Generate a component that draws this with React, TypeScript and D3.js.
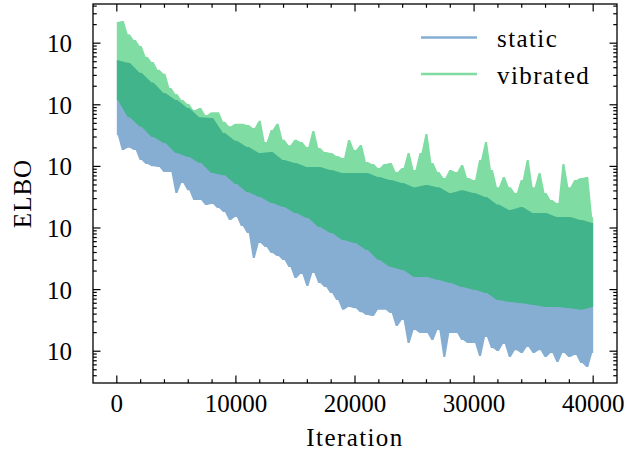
import React from "react";
import * as d3 from "d3";

// Iterations sampled for outer envelopes (every 500) and inner envelopes (every 1000)
const itersFine: number[] = d3.range(0, 40001, 500);
const itersCoarse: number[] = d3.range(0, 40001, 1000);

// static: lower envelope (read every 500 iterations)
const staticLow = [
  3.2e4, 1.85e4, 2.0e4, 1.85e4, 1.27e4, 1.09e4, 1.01e4, 9.8e3, 8.1e3, 8.1e3, 3.7e3, 5.4e3, 4.1e3, 2.85e3, 2.85e3, 2.36e3, 2.45e3, 2.11e3, 1.82e3, 1.35e3, 1.51e3,
  1.08e3, 830, 326, 570, 492, 393, 351, 303, 233, 154, 179, 114, 186, 128, 110, 88, 68, 47, 52, 50, 43, 38.7,
  37.2, 47, 47, 41.7, 25.6, 32, 13.6, 22.1, 19.7, 19.7, 15.2, 22.1, 8.05, 19.7, 19.7, 15.2, 13.6, 13.6, 8.36, 17.0, 11.3, 10.1,
  13.1, 8.05, 10.4, 9.35, 11.7, 9.35, 10.4, 8.05, 9.35, 6.68, 9.35, 8.05, 8.67, 6.43, 5.53, 9.35,
];
// static: upper envelope (read every 1000 iterations)
const staticHigh = [
  5.3e5, 4.8e5, 3.3e5, 2.3e5, 1.56e5, 1.2e5, 8.9e4, 6.3e4, 6.1e4, 3.5e4, 2.6e4, 2.07e4, 1.65e4, 1.71e4, 1.27e4, 1.13e4, 9.8e3, 9.8e3, 8.7e3, 7.8e3, 7.8e3,
  7.8e3, 6.7e3, 6.0e3, 5.4e3, 4.6e3, 5.0e3, 4.6e3, 3.7e3, 4.1e3, 3.7e3, 3.2e3, 2.4e3, 1.96e3, 2.2e3, 1.75e3, 1.75e3, 1.51e3, 1.51e3, 1.35e3, 1.21e3,
];
// vibrated: lower envelope (read every 1000 iterations)
const vibratedLow = [
  1.2e5, 6.3e4, 4.4e4, 3.0e4, 2.4e4, 1.65e4, 1.42e4, 1.13e4, 7.8e3, 7.2e3, 5.2e3, 3.8e3, 3.2e3, 2.55e3, 2.2e3, 1.75e3, 1.45e3, 1.04e3, 830, 640, 570,
  440, 303, 233, 208, 160, 160, 143, 128, 110, 99, 88, 68, 63, 60, 56, 52, 52, 50, 47, 52,
];
// vibrated: upper envelope (read every 500 iterations)
const vibratedHigh = [
  2.2e6, 2.3e6, 1.4e6, 1.13e6, 9.0e5, 6.0e5, 4.95e5, 3.7e5, 3.2e5, 1.87e5, 1.5e5, 1.2e5, 1.03e5, 8.2e4, 8.9e4, 6.8e4, 7.6e4, 7.6e4, 5.3e4, 4.5e4, 4.9e4,
  4.9e4, 4.7e4, 4.2e4, 5.5e4, 2.5e4, 3.9e4, 4.9e4, 2.7e4, 2.2e4, 2.7e4, 2.5e4, 2.07e4, 3.76e4, 1.99e4, 1.71e4, 1.65e4, 1.48e4, 1.37e4, 2.69e4, 1.85e4, 2.22e4, 1.18e4,
  1.09e4, 9.4e3, 1.09e4, 1.13e4, 8.1e3, 9.4e3, 1.65e4, 8.7e3, 1.65e4, 3.36e4, 1.13e4, 8.1e3, 6.5e3, 8.7e3, 8.1e3, 1.05e4, 6.5e3, 6.0e3, 1.27e4, 2.49e4, 8.7e3, 4.6e3,
  6.7e3, 4.6e3, 3.7e3, 6.0e3, 1.27e4, 4.6e3, 7.8e3, 3.7e3, 2.85e3, 2.55e3, 1.09e4, 4.6e3, 6.0e3, 6.5e3, 6.7e3, 1.5e3,
];

const seriesNames = ["static", "vibrated"];
const seriesColors = ["#0C5DA5", "#00B945"];
const xTickValues = [0, 10000, 20000, 30000, 40000];
const xTickLabels = ["0", "10000", "20000", "30000", "40000"];
const yTickValues = [1e1, 1e2, 1e3, 1e4, 1e5, 1e6];
const yTickLabels = ["10", "10", "10", "10", "10", "10"];

const FONT = "Liberation Serif, DejaVu Serif, serif";

export default function App() {
  const L = 93, R = 617, T = 4, B = 383;
  const x = d3.scaleLinear().domain([-2000, 42000]).range([L, R]);
  const y = d3.scaleLog().domain([Math.pow(10, 0.484), Math.pow(10, 6.636)]).range([B, T]);

  // narrow flat tops at each sampled value so spikes look like the line's vertical strokes
  const edge = (its: number[], vals: number[]) => {
    const pts: [number, number][] = [];
    its.forEach((it, i) => {
      const px = x(it), py = y(vals[i]);
      pts.push([px - (i === 0 ? 0 : 1), py]);
      pts.push([px + (i === its.length - 1 ? 0 : 1), py]);
    });
    return pts;
  };
  const band = (hiIt: number[], hi: number[], loIt: number[], lo: number[]) => {
    const top = edge(hiIt, hi);
    const bot = edge(loIt, lo).reverse();
    return (d3.line()([...top, ...bot]) || "") + "Z";
  };

  const staticPath = band(itersCoarse, staticHigh, itersFine, staticLow);
  const vibratedPath = band(itersFine, vibratedHigh, itersCoarse, vibratedLow);

  const xMinor = d3.range(2000, 40001, 2000).filter((v) => v % 10000 !== 0);
  const [d0, d1] = y.domain();
  const yMinor: number[] = [];
  for (let k = 0; k <= 6; k++) {
    for (let m = 2; m <= 9; m++) {
      const v = m * Math.pow(10, k);
      if (v > d0 && v < d1) yMinor.push(v);
    }
  }
  const MAJ = 7.5, MIN = 3.75, TW = 1.2;

  return (
    <svg width={627} height={455} style={{ position: "absolute", left: 0, top: 0, background: "#fff" }}>
      <defs>
        <clipPath id="plotclip">
          <rect x={L} y={T} width={R - L} height={B - T} />
        </clipPath>
      </defs>
      <rect x={0} y={0} width={627} height={455} fill="#fff" />
      <g clipPath="url(#plotclip)">
        <path d={staticPath} fill={seriesColors[0]} fillOpacity={0.5} />
        <path d={vibratedPath} fill={seriesColors[1]} fillOpacity={0.5} />
      </g>
      {/* ticks */}
      <g stroke="#000" strokeWidth={TW}>
        {xTickValues.map((v) => (
          <g key={"xt" + v}>
            <line x1={x(v)} x2={x(v)} y1={B} y2={B - MAJ} />
            <line x1={x(v)} x2={x(v)} y1={T} y2={T + MAJ} />
          </g>
        ))}
        {xMinor.map((v) => (
          <g key={"xm" + v}>
            <line x1={x(v)} x2={x(v)} y1={B} y2={B - MIN} />
            <line x1={x(v)} x2={x(v)} y1={T} y2={T + MIN} />
          </g>
        ))}
        {yTickValues.map((v) => (
          <g key={"yt" + v}>
            <line x1={L} x2={L + MAJ} y1={y(v)} y2={y(v)} />
            <line x1={R} x2={R - MAJ} y1={y(v)} y2={y(v)} />
          </g>
        ))}
        {yMinor.map((v) => (
          <g key={"ym" + v}>
            <line x1={L} x2={L + MIN} y1={y(v)} y2={y(v)} />
            <line x1={R} x2={R - MIN} y1={y(v)} y2={y(v)} />
          </g>
        ))}
      </g>
      <rect x={L} y={T} width={R - L} height={B - T} fill="none" stroke="#000" strokeWidth={1.3} />
      {/* tick labels */}
      <g style={{ fontFamily: FONT }} fontSize={25} fill="#000">
        {xTickValues.map((v, i) => (
          <text key={"xl" + v} x={x(v)} y={411.5} textAnchor="middle">
            {xTickLabels[i]}
          </text>
        ))}
        {yTickValues.map((v, i) => (
          <text key={"yl" + v} x={72} y={y(v) + 9} textAnchor="end">
            {yTickLabels[i]}
          </text>
        ))}
        <text x={(L + R) / 2} y={445.5} textAnchor="middle" letterSpacing={1.4}>
          Iteration
        </text>
        <text transform={`translate(31,${(T + B) / 2}) rotate(-90)`} textAnchor="middle" letterSpacing={1}>
          ELBO
        </text>
      </g>
      {/* legend */}
      <g style={{ fontFamily: FONT }} fontSize={25}>
        {seriesNames.map((name, i) => (
          <g key={name}>
            <line x1={421} x2={477} y1={37.5 + i * 36.5} y2={37.5 + i * 36.5} stroke={seriesColors[i]} strokeOpacity={0.5} strokeWidth={2.6} />
            <text x={497} y={47 + i * 37} fill="#000" letterSpacing={1.4}>
              {name}
            </text>
          </g>
        ))}
      </g>
    </svg>
  );
}
